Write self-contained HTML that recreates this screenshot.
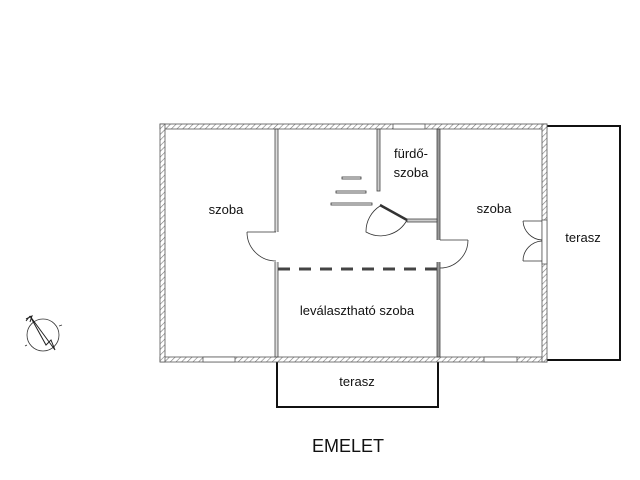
<!DOCTYPE html>
<html><head><meta charset="utf-8"><style>
html,body{margin:0;padding:0;background:#fff;}
svg{display:block}
text{font-family:"Liberation Sans","DejaVu Sans",sans-serif;fill:#111}
</style></head><body>
<svg width="640" height="480" viewBox="0 0 640 480" xmlns="http://www.w3.org/2000/svg">
<defs>
<pattern id="h" width="4" height="4" patternUnits="userSpaceOnUse" patternTransform="rotate(45)">
<rect width="4" height="4" fill="#fff"/><line x1="0" y1="0" x2="0" y2="4" stroke="#777" stroke-width="1.2"/>
</pattern>
</defs>
<rect x="546" y="126" width="74" height="234" fill="none" stroke="#111" stroke-width="2"/>
<polyline points="277,361 277,407 438,407 438,361" fill="none" stroke="#111" stroke-width="2"/>
<rect x="160" y="124" width="387" height="5" fill="url(#h)" stroke="#555" stroke-width="0.8"/>
<rect x="160" y="357" width="387" height="5" fill="url(#h)" stroke="#555" stroke-width="0.8"/>
<rect x="160" y="124" width="5" height="238" fill="url(#h)" stroke="#555" stroke-width="0.8"/>
<rect x="542" y="124" width="5" height="238" fill="url(#h)" stroke="#555" stroke-width="0.8"/>
<rect x="393" y="124" width="32" height="5" fill="#fff" stroke="#555" stroke-width="0.8"/>
<rect x="203" y="357" width="32" height="5" fill="#fff" stroke="#555" stroke-width="0.8"/>
<rect x="484" y="357" width="33" height="5" fill="#fff" stroke="#555" stroke-width="0.8"/>
<rect x="542" y="220" width="5" height="44" fill="#fff" stroke="#555" stroke-width="0.8"/>
<rect x="275" y="129" width="3" height="228" fill="#ddd" stroke="#444" stroke-width="0.8"/>
<rect x="437" y="129" width="3" height="228" fill="#999" stroke="#444" stroke-width="0.8"/>
<rect x="377" y="129" width="3" height="62" fill="#ccc" stroke="#444" stroke-width="0.8"/>
<rect x="407" y="219" width="30" height="3" fill="#ccc" stroke="#444" stroke-width="0.8"/>
<rect x="274" y="232" width="5" height="30" fill="#fff"/>
<rect x="436" y="240" width="5" height="22" fill="#fff"/>
<line x1="278" y1="269" x2="437" y2="269" stroke="#444" stroke-width="3" stroke-dasharray="12,9"/>
<rect x="342" y="177" width="19" height="2" fill="#fff" stroke="#333" stroke-width="0.8"/>
<rect x="336" y="191" width="30" height="2" fill="#fff" stroke="#333" stroke-width="0.8"/>
<rect x="331" y="203" width="41" height="2" fill="#fff" stroke="#333" stroke-width="0.8"/>
<path d="M247 232 L276 232 M247 232 A29 29 0 0 0 276 261" fill="none" stroke="#333" stroke-width="0.8"/>
<path d="M380 206 L407 220 M380 206 A30 30 0 0 0 366 232 L366 232 A30 30 0 0 0 407 220" fill="none" stroke="#333" stroke-width="0.8"/>
<line x1="380" y1="205" x2="407" y2="220" stroke="#333" stroke-width="2.5"/>
<path d="M440 240 L468 240 M468 240 A28 28 0 0 1 440 268" fill="none" stroke="#333" stroke-width="0.8"/>
<path d="M542 221 L523 221 M523 221 A20 20 0 0 0 542 240 M542 261 L523 261 M523 261 A20 20 0 0 1 542 241" fill="none" stroke="#333" stroke-width="0.8"/>
<text x="226" y="214" font-size="13" text-anchor="middle">szoba</text>
<text x="411" y="158" font-size="13" text-anchor="middle">fürdő-</text>
<text x="411" y="177" font-size="13" text-anchor="middle">szoba</text>
<text x="494" y="213" font-size="13" text-anchor="middle">szoba</text>
<text x="583" y="242" font-size="13" text-anchor="middle">terasz</text>
<text x="357" y="315" font-size="13" text-anchor="middle">leválasztható szoba</text>
<text x="357" y="386" font-size="13" text-anchor="middle">terasz</text>
<text x="348" y="452" font-size="18" text-anchor="middle">EMELET</text>
<circle cx="43" cy="335" r="16" fill="none" stroke="#333" stroke-width="0.8"/>
<line x1="59" y1="326" x2="62" y2="325" stroke="#333" stroke-width="0.8"/>
<line x1="27" y1="345" x2="25" y2="346" stroke="#333" stroke-width="0.8"/>
<path d="M30 316 L55 350 L51 340 L46 345 Z" fill="#fff" stroke="#222" stroke-width="1"/>
<path d="M26 319 L32 316 L30 322 M30 316 L26 321" fill="none" stroke="#222" stroke-width="1"/>
</svg>
</body></html>
